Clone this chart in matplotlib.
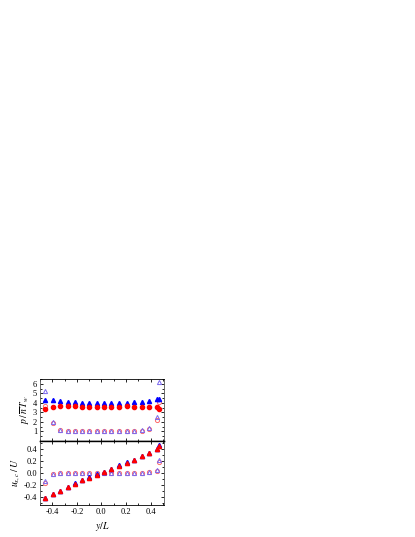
import matplotlib
matplotlib.use("Agg")
import matplotlib.pyplot as plt
from matplotlib.ticker import MultipleLocator

plt.rcParams['font.family'] = ['Liberation Serif', 'DejaVu Serif']
plt.rcParams['mathtext.fontset'] = 'stix'

# positions y/L
y = [-0.463, -0.398, -0.338, -0.275, -0.218, -0.158, -0.098, -0.036, 0.021,
     0.082, 0.144, 0.207, 0.266, 0.327, 0.386, 0.449, 0.468]

# top panel: pressure
p_blue = [4.27, 4.28, 4.20, 4.11, 4.08, 3.97, 3.97, 3.94, 3.94, 3.94, 3.94,
          4.00, 4.04, 4.11, 4.22, 4.36, 4.36]
p_red = [3.35, 3.59, 3.66, 3.66, 3.63, 3.59, 3.56, 3.56, 3.56, 3.52, 3.56,
         3.62, 3.59, 3.59, 3.59, 3.56, 3.31]
p_open_circ = [3.65, 1.85, 1.15, 1.0, 1.0, 1.0, 1.0, 1.0, 1.0, 1.0, 1.0,
               1.0, 1.0, 1.05, 1.3, 2.25, 4.05]
p_open_tri = [5.2, 2.0, 1.2, 1.04, 1.0, 1.0, 1.0, 1.0, 1.0, 1.0, 1.0,
              1.0, 1.0, 1.1, 1.35, 2.5, 6.2]

# bottom panel: velocity
u_blue = [-0.415, -0.352, -0.293, -0.233, -0.172, -0.118, -0.074, -0.025, 0.023,
          0.066, 0.125, 0.174, 0.223, 0.277, 0.338, 0.403, 0.457]
u_red = [-0.42, -0.356, -0.297, -0.237, -0.176, -0.122, -0.078, -0.029, 0.02,
         0.062, 0.122, 0.171, 0.22, 0.274, 0.335, 0.40, 0.454]
u_open_circ = [-0.17, -0.02, 0.0, 0.0, 0.0, 0.0, 0.0, 0.0, 0.0, 0.0, 0.0,
               0.0, 0.0, 0.0, 0.01, 0.04, 0.19]
u_open_tri = [-0.14, -0.01, 0.0, 0.0, 0.0, 0.0, 0.0, 0.0, 0.0, 0.0, 0.0,
              0.0, 0.0, 0.0, 0.01, 0.05, 0.21]

fig = plt.figure(figsize=(4.15, 5.37), dpi=100)
ax1 = fig.add_axes([0.0964, 0.1788, 0.2988, 0.1154])
ax2 = fig.add_axes([0.0964, 0.0596, 0.2988, 0.1192])

c_blue = '#0000ff'
c_red = '#ff0000'
c_lred = '#ff6a6a'
c_purp = '#7b68ee'
ms = 3.0

ax1.plot(y, p_open_circ, 'o', ms=ms, mfc='none', mec=c_lred, mew=0.7, ls='none')
ax1.plot(y, p_open_tri, '^', ms=ms, mfc='none', mec=c_purp, mew=0.7, ls='none')
ax1.plot(y, p_blue, '^', ms=ms, color=c_blue, mec=c_blue, ls='none')
ax1.plot(y, p_red, 'o', ms=ms, color=c_red, mec=c_red, ls='none')

ax2.plot(y, u_open_circ, 'o', ms=ms, mfc='none', mec=c_lred, mew=0.7, ls='none')
ax2.plot(y, u_open_tri, '^', ms=ms, mfc='none', mec=c_purp, mew=0.7, ls='none')
ax2.plot(y, u_blue, '^', ms=ms, color=c_blue, mec=c_blue, ls='none')
ax2.plot(y, u_red, '^', ms=ms, color=c_red, mec=c_red, ls='none')

fs = 6
for ax in (ax1, ax2):
    ax.set_xlim(-0.5, 0.51)
    ax.xaxis.set_major_locator(MultipleLocator(0.2))
    ax.xaxis.set_minor_locator(MultipleLocator(0.1))
    ax.tick_params(which='both', direction='in', top=True, right=True,
                   labelsize=fs, width=0.6, pad=2)
    ax.tick_params(which='major', length=2.5)
    ax.tick_params(which='minor', length=1.5)
    for s in ax.spines.values():
        s.set_linewidth(0.6)
    ax.spines['left'].set_color('#555555')
    ax.spines['right'].set_color('#555555')

ax1.set_ylim(0, 6.5)
ax1.yaxis.set_major_locator(MultipleLocator(1))
ax1.yaxis.set_minor_locator(MultipleLocator(0.5))
ax1.set_yticks([1, 2, 3, 4, 5, 6])
ax1.tick_params(labelbottom=False)
ax1.spines['bottom'].set_linewidth(1.0)
ax1.spines['bottom'].set_color('black')

ax2.set_ylim(-0.53, 0.53)
ax2.yaxis.set_major_locator(MultipleLocator(0.2))
ax2.yaxis.set_minor_locator(MultipleLocator(0.1))
ax2.set_yticks([-0.4, -0.2, 0.0, 0.2, 0.4])
ax2.set_yticklabels(['-0.4', '-0.2', '0.0', '0.2', '0.4'])
ax2.set_xticks([-0.4, -0.2, 0.0, 0.2, 0.4])
ax2.set_xticklabels(['-0.4', '-0.2', '0.0', '0.2', '0.4'])
ax2.spines['top'].set_linewidth(1.0)
ax2.spines['top'].set_color('black')

ax1.set_ylabel(r'$p\,/\,\overline{n}\,T_w$', fontsize=7, labelpad=1)
ax2.set_ylabel(r'$u_{x,c}\,/\,U$', fontsize=7, labelpad=1)
ax2.set_xlabel(r'$y/L$', fontsize=7, labelpad=3)

fig.savefig('out.png', dpi=100)
